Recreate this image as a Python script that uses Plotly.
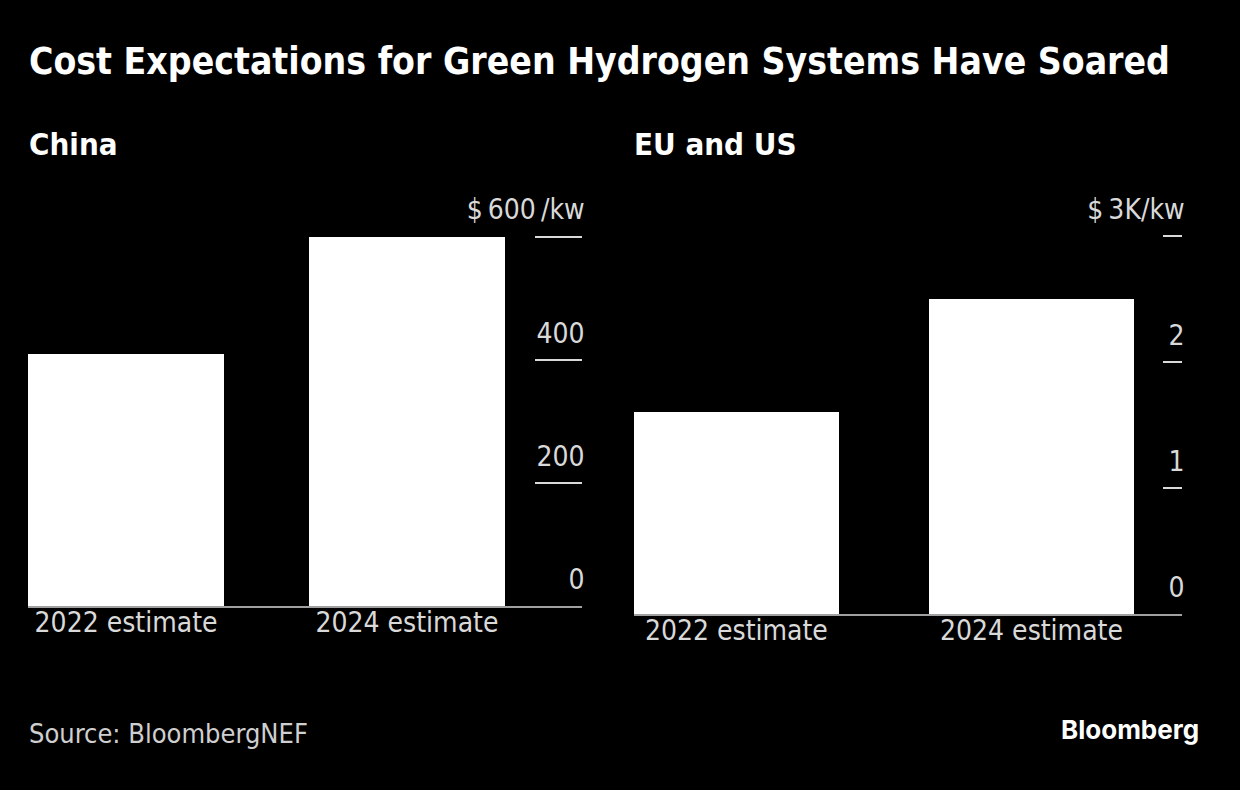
import plotly.graph_objects as go

categories = ["2022 estimate", "2024 estimate"]
china_values = [410, 600]          # $/kw
eu_us_values = [1.6, 2.5]          # $K/kw

china_tickvals = [0, 200, 400, 600]
china_ticktext = ["0", "200", "400", "$\u2009600\u2009/kw"]
eu_tickvals = [0, 1, 2, 3]
eu_ticktext = ["0", "1", "2", "$\u20093K/kw"]

W, H = 1240, 790
BG = "#000000"
TICK_C = "#d9d9d9"
FONT = "DejaVu Sans Condensed"

def px_x(x):
    return x / W

def px_y(y):
    return 1 - y / H

fig = go.Figure()
fig.add_trace(go.Bar(x=categories, y=china_values, marker=dict(color="white", line=dict(width=0)),
                     width=0.70, xaxis="x", yaxis="y", hoverinfo="skip"))
fig.add_trace(go.Bar(x=categories, y=eu_us_values, marker=dict(color="white", line=dict(width=0)),
                     width=0.695, xaxis="x2", yaxis="y2", hoverinfo="skip"))

xcommon = dict(showgrid=False, zeroline=False, showline=True, linecolor="#a0a0a0", linewidth=2,
               ticks="", tickfont=dict(family=FONT, size=28, color=TICK_C), fixedrange=True,
               ticklabelstandoff=-10)
ycommon = dict(showgrid=False, zeroline=False, showline=False, side="right", ticks="inside",
               tickwidth=2, tickcolor=TICK_C, ticklabelposition="inside",
               tickfont=dict(family=FONT, size=28, color=TICK_C), ticklabelshift=-27,
               fixedrange=True, tickmode="array")

# left: 200 units = 123.3 px, zero at y=606; right: 1 unit = 126 px, zero at y=614
fig.update_layout(
    width=W, height=H, paper_bgcolor=BG, plot_bgcolor=BG,
    margin=dict(l=0, r=0, t=0, b=0), showlegend=False, bargap=0,
    xaxis=dict(domain=[px_x(28), px_x(582)], range=[-0.349, 1.623], anchor="y", **xcommon),
    yaxis=dict(domain=[px_y(606), px_y(190)], range=[0, 600 + (236.7 - 190) / 123.3 * 200], anchor="x",
               tickvals=china_tickvals, ticktext=china_ticktext, ticklen=47,
               ticklabelstandoff=-47, **ycommon),
    xaxis2=dict(domain=[px_x(634), px_x(1182)], range=[-0.347, 1.51], anchor="y2", **xcommon),
    yaxis2=dict(domain=[px_y(614), px_y(190)], range=[0, 3 + (236 - 190) / 126], anchor="x2",
                tickvals=eu_tickvals, ticktext=eu_ticktext, ticklen=19,
                ticklabelstandoff=-19, **ycommon),
)

annots = [
    dict(text="<b>Cost Expectations for Green Hydrogen Systems Have Soared</b>", x=px_x(27), y=px_y(62),
         font=dict(family=FONT, size=37, color="white"), xanchor="left"),
    dict(text="<b>China</b>", x=px_x(27), y=px_y(144), font=dict(family=FONT, size=31, color="white"), xanchor="left"),
    dict(text="<b>EU and US</b>", x=px_x(632), y=px_y(144), font=dict(family=FONT, size=31, color="white"), xanchor="left"),
    dict(text="Source: BloombergNEF", x=px_x(27), y=px_y(733), font=dict(family=FONT, size=27, color="#cfcfcf"), xanchor="left"),
    dict(text="<b>Bloomberg</b>", x=px_x(1201), y=px_y(729), font=dict(family="Inter", size=26, color="white"), xanchor="right"),
]
for a in annots:
    fig.add_annotation(xref="paper", yref="paper", showarrow=False, yanchor="middle", **a)

fig.write_html("out.html", config={"displayModeBar": False},
               post_script="document.body.style.margin='0';document.body.style.background='#000';")
